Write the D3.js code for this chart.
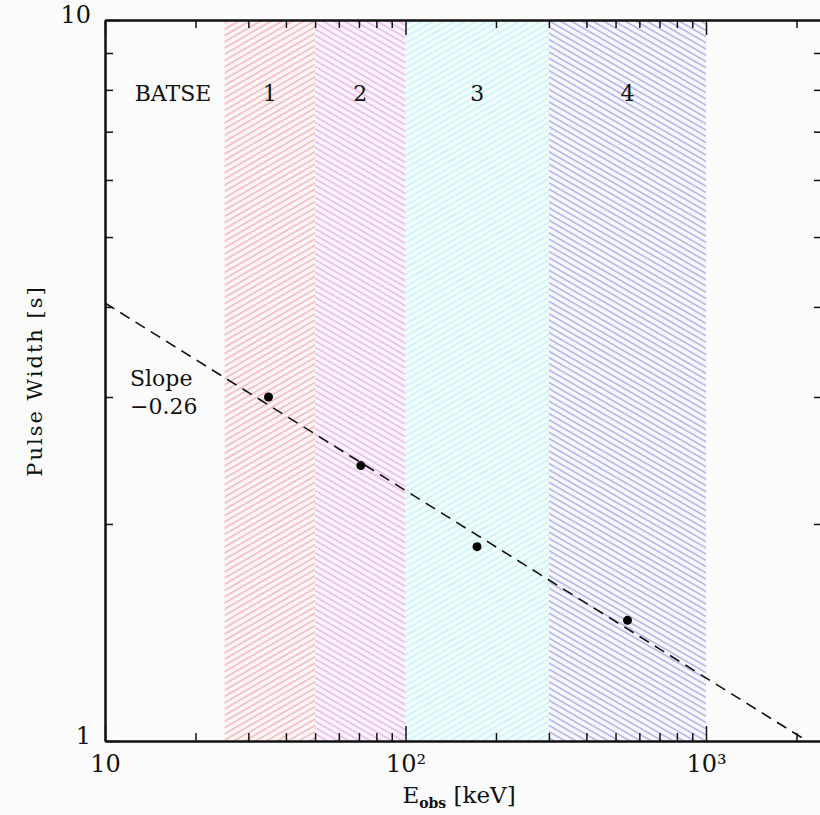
<!DOCTYPE html>
<html>
<head>
<meta charset="utf-8">
<script src="https://cdn.jsdelivr.net/npm/d3@7"></script>
<style>
  html, body { margin: 0; padding: 0; background: #fbfbfb; }
  svg { display: block; }
  text { font-family: "DejaVu Serif", serif; fill: #111; }
</style>
</head>
<body>
<svg id="chart" width="820" height="815"></svg>
<script>
// ---- data ----
const bandEdges = [25, 50, 100, 300, 1000];
const bandLabels = ["1", "2", "3", "4"];
const pointEnergy = [35, 71, 173, 548];
const pointWidth = [3.0, 2.41, 1.86, 1.47];
const fitEnergy = [10, 2170];
const fitWidth = [4.05, 1.0];
const xMajorTicks = [10, 100, 1000];
const xMajorLabels = ["10", "10²", "10³"];
const xMinorTicks = [20, 30, 40, 50, 60, 70, 80, 90, 200, 300, 400, 500, 600, 700, 800, 900, 2000];
const yMajorTicks = [1, 10];
const yMajorLabels = ["1", "10"];
const yMinorTicks = [2, 3, 4, 5, 6, 7, 8, 9];

// ---- styles ----
const bandStyle = [
  { color: "#f0949c", bg: "#fcf6f6", angle: -30 },
  { color: "#e096e2", bg: "#fcf5fc", angle: 30 },
  { color: "#b4f0f0", bg: "#f2fcfc", angle: -30 },
  { color: "#8c8ce0", bg: "#f7f7fc", angle: 30 }
];

(function () {
const svg = d3.select("#chart");
const L = 105, R = 822, T = 20, B = 741;
const x = d3.scaleLog().domain([10, 2432]).range([L, R]);
const y = d3.scaleLog().domain([1, 10]).range([B, T]);

const defs = svg.append("defs");
defs.append("clipPath").attr("id", "plotclip")
  .append("rect").attr("x", L).attr("y", T)
  .attr("width", R - L).attr("height", B - T);

bandStyle.forEach((s, i) => {
  const p = defs.append("pattern").attr("id", "hatch" + i)
    .attr("patternUnits", "userSpaceOnUse")
    .attr("width", 20).attr("height", 5.4)
    .attr("patternTransform", `rotate(${s.angle})`);
  p.append("rect").attr("width", 20).attr("height", 5.4).attr("fill", s.bg);
  p.append("line").attr("x1", 0).attr("x2", 20).attr("y1", 2.7).attr("y2", 2.7)
    .attr("stroke", s.color).attr("stroke-width", 1);
});

// bands
const bands = d3.range(bandLabels.length).map(i => ({ lo: bandEdges[i], hi: bandEdges[i + 1], label: bandLabels[i], i }));
svg.append("g").selectAll("rect").data(bands).join("rect")
  .attr("x", d => x(d.lo)).attr("y", T)
  .attr("width", d => x(d.hi) - x(d.lo)).attr("height", B - T)
  .attr("fill", d => `url(#hatch${d.i})`);

// band labels
svg.append("g").selectAll("text").data(bands).join("text")
  .attr("x", d => x(Math.sqrt(d.lo * d.hi))).attr("y", 101)
  .attr("text-anchor", "middle").attr("font-size", 22)
  .text(d => d.label);
svg.append("text").attr("x", 173).attr("y", 101).attr("text-anchor", "middle")
  .attr("font-size", 22).text("BATSE");

// fit line
svg.append("path")
  .datum(fitEnergy.map((e, i) => [e, fitWidth[i]]))
  .attr("clip-path", "url(#plotclip)")
  .attr("fill", "none").attr("stroke", "#111").attr("stroke-width", 1.6)
  .attr("stroke-dasharray", "11,7")
  .attr("d", d3.line().x(d => x(d[0])).y(d => y(d[1])));

// points
svg.append("g").selectAll("circle").data(pointEnergy.map((e, i) => [e, pointWidth[i]]))
  .join("circle")
  .attr("cx", d => x(d[0])).attr("cy", d => y(d[1])).attr("r", 4.5).attr("fill", "#000");

// slope label
svg.append("text").attr("x", 130).attr("y", 386).attr("font-size", 22).text("Slope");
svg.append("text").attr("x", 130).attr("y", 414).attr("font-size", 22).text("−0.26");

// axes
const axG = svg.append("g").attr("class", "axes");
function styleAxis(g) {
  g.select(".domain").attr("stroke", "#111").attr("stroke-width", 2);
  g.selectAll(".tick line").attr("stroke", "#111").attr("stroke-width", 1.5);
  g.selectAll("text").attr("font-family", "DejaVu Serif").attr("font-size", 24).attr("fill", "#111");
}
// bottom
axG.append("g").attr("transform", `translate(0,${B})`)
  .call(d3.axisBottom(x).tickValues(xMinorTicks).tickSizeInner(-8).tickSizeOuter(0).tickFormat(""))
  .call(styleAxis);
axG.append("g").attr("transform", `translate(0,${B})`)
  .call(d3.axisBottom(x).tickValues(xMajorTicks).tickSizeInner(-15).tickSizeOuter(0).tickPadding(8)
    .tickFormat((d, i) => xMajorLabels[i]))
  .call(styleAxis)
  .call(g => g.selectAll("text").attr("dy", "0.95em"));
// top
axG.append("g").attr("transform", `translate(0,${T})`)
  .call(d3.axisTop(x).tickValues(xMinorTicks).tickSizeInner(-8).tickSizeOuter(0).tickFormat(""))
  .call(styleAxis);
axG.append("g").attr("transform", `translate(0,${T})`)
  .call(d3.axisTop(x).tickValues(xMajorTicks).tickSizeInner(-15).tickSizeOuter(0).tickFormat(""))
  .call(styleAxis);
// left
axG.append("g").attr("transform", `translate(${L},0)`)
  .call(d3.axisLeft(y).tickValues(yMinorTicks).tickSizeInner(-8).tickSizeOuter(0).tickFormat(""))
  .call(styleAxis);
axG.append("g").attr("transform", `translate(${L},0)`)
  .call(d3.axisLeft(y).tickValues(yMajorTicks).tickSizeInner(-15).tickSizeOuter(0).tickPadding(14)
    .tickFormat((d, i) => yMajorLabels[i]))
  .call(styleAxis)
  .call(g => g.selectAll("text").attr("dy", "0.1em"));
// right
axG.append("g").attr("transform", `translate(${R},0)`)
  .call(d3.axisRight(y).tickValues(yMinorTicks).tickSizeInner(-8).tickSizeOuter(0).tickFormat(""))
  .call(styleAxis);

// axis titles
const xt = svg.append("text").attr("x", 459).attr("y", 803).attr("text-anchor", "middle").attr("font-size", 23);
xt.append("tspan").text("E");
xt.append("tspan").attr("font-size", 14).attr("dy", 5).attr("font-weight", "bold").text("obs");
xt.append("tspan").attr("dy", -5).text(" [keV]");

svg.append("text")
  .attr("transform", "translate(42,381) rotate(-90)")
  .attr("text-anchor", "middle").attr("font-size", 21).attr("letter-spacing", 2)
  .text("Pulse Width [s]");
})();
</script>
</body>
</html>
